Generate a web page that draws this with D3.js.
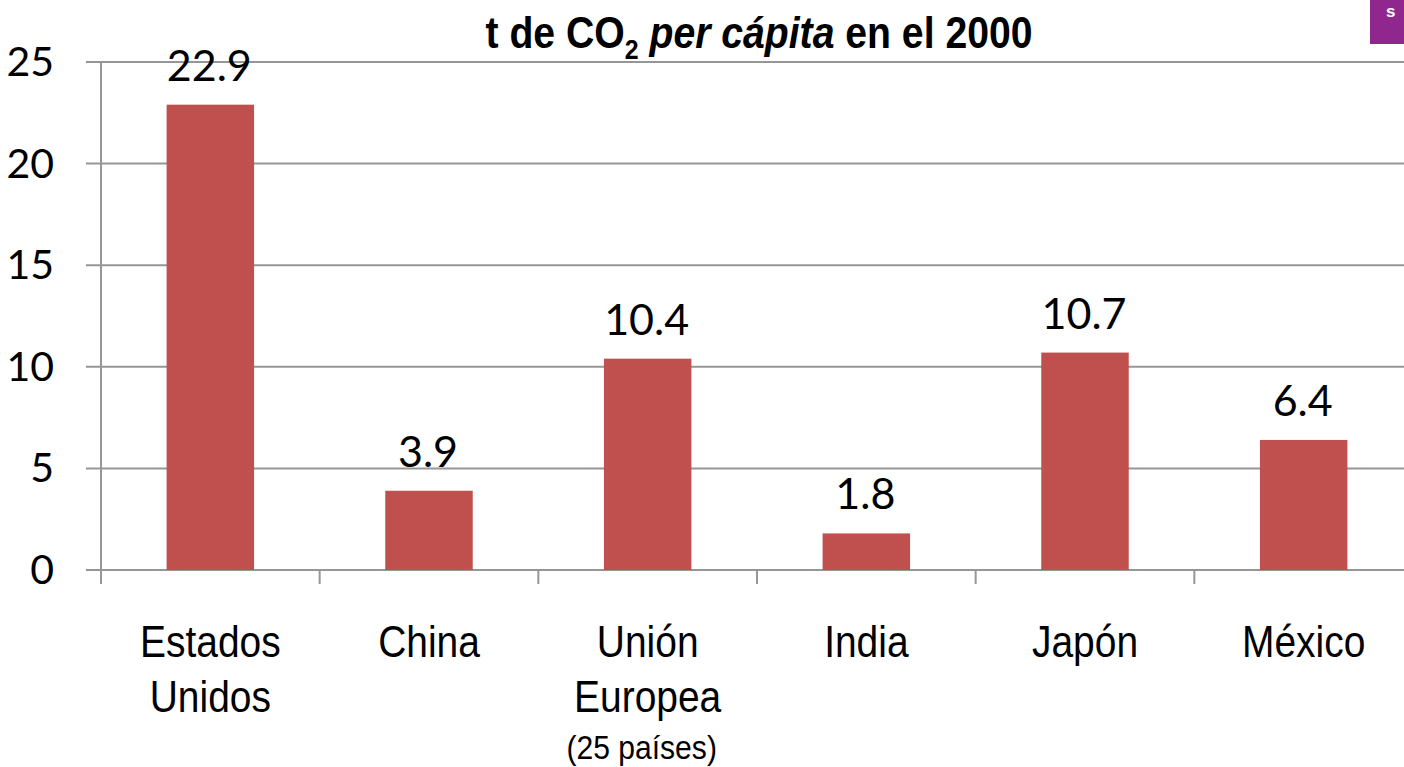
<!DOCTYPE html>
<html><head><meta charset="utf-8">
<script src="https://cdnjs.cloudflare.com/ajax/libs/d3/7.8.5/d3.min.js"></script>
<style>html,body{margin:0;padding:0;background:#fff;overflow:hidden}svg{display:block}</style>
</head><body><svg id="c" width="1404" height="767"></svg>
<script>
const categories = ["Estados Unidos","China","Unión Europea","India","Japón","México"];
const categoryLines = [["Estados","Unidos"],["China"],["Unión","Europea"],["India"],["Japón"],["México"]];
const values = [22.9,3.9,10.4,1.8,10.7,6.4];
const yTicks = [0,5,10,15,20,25];
const note = "(25 países)";

const svg = d3.select("#c");
const numFont = "Lato, 'Open Sans', sans-serif";
const lblFont = "'Liberation Sans',sans-serif";
const narrow = 0.885;
const x = d3.scaleBand().domain(categories).range([101,1413]).paddingInner(0.6).paddingOuter(0.3);
const y = d3.scaleLinear().domain([0,25]).range([570,62]);
const axisColor = "#969696";

svg.append("g").selectAll("line").data(yTicks).join("line")
  .attr("x1",86).attr("x2",1404)
  .attr("y1",d=>y(d)).attr("y2",d=>y(d))
  .attr("stroke",axisColor).attr("stroke-width",2);
svg.append("line").attr("x1",101).attr("x2",101).attr("y1",62).attr("y2",584)
  .attr("stroke",axisColor).attr("stroke-width",2);
const step = x.step();
svg.append("g").selectAll("line").data(categories).join("line")
  .attr("x1",d=>x(d)-step*0.3+step).attr("x2",d=>x(d)-step*0.3+step)
  .attr("y1",570).attr("y2",584).attr("stroke",axisColor).attr("stroke-width",2);

svg.append("g").selectAll("rect").data(values).join("rect")
  .attr("x",(d,i)=>x(categories[i])).attr("width",x.bandwidth())
  .attr("y",d=>y(d)).attr("height",d=>y(0)-y(d)).attr("fill","#C0504D");

svg.append("g").selectAll("text").data(yTicks).join("text")
  .attr("x",54).attr("y",d=>y(d)+14).attr("text-anchor","end")
  .attr("font-family",numFont).attr("font-size",41).attr("fill","#000").text(d=>d);

svg.append("g").selectAll("text").data(values).join("text")
  .attr("x",(d,i)=>x(categories[i])+x.bandwidth()/2-1).attr("y",d=>y(d)-24)
  .attr("text-anchor","middle").attr("font-family",numFont).attr("font-size",43)
  .attr("fill","#000").text(d=>d.toFixed(1));

categoryLines.forEach((ls,i)=>{
  const cx = x(categories[i])+x.bandwidth()/2;
  ls.forEach((t,j)=>{
    svg.append("text").attr("transform",`translate(${cx},${657+j*55}) scale(${narrow},1)`)
      .attr("text-anchor","middle").attr("font-family",lblFont).attr("font-size",44)
      .attr("fill","#000").text(t);
  });
});
svg.append("text").attr("transform",`translate(${x(categories[2])+x.bandwidth()/2-6},759) scale(${narrow},1)`)
  .attr("text-anchor","middle").attr("font-family",lblFont).attr("font-size",34).text(note);

const title = svg.append("text").attr("transform",`translate(759,48) scale(0.89,1)`).attr("text-anchor","middle")
  .attr("font-family",lblFont).attr("font-size",44).attr("font-weight","bold").attr("fill","#000");
title.append("tspan").text("t de CO");
title.append("tspan").attr("font-size",28).attr("dy",11).text("2");
title.append("tspan").attr("dy",-11).text(" ");
title.append("tspan").attr("font-style","italic").text("per cápita");
title.append("tspan").text(" en el 2000");

svg.append("rect").attr("x",1370).attr("y",0).attr("width",34).attr("height",44).attr("fill","#90278E");
svg.append("text").attr("x",1386).attr("y",17).attr("font-family",lblFont)
  .attr("font-weight","bold").attr("font-size",17).attr("fill","#fff").text("s");
</script></body></html>
